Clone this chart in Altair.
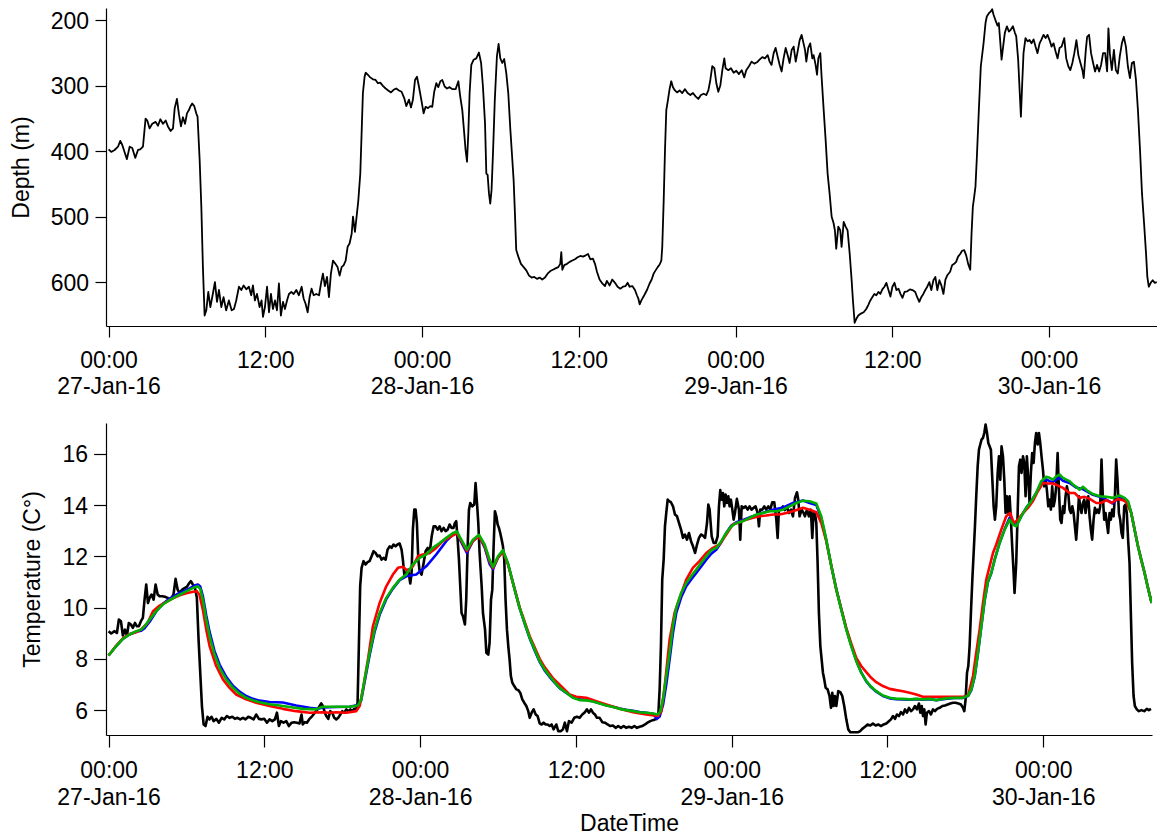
import altair as alt
import pandas as pd

START = "2016-01-27 00:00:00"

# (hours since 27-Jan-16 00:00, depth in m)
DEPTH = [
    (0.0, 397), (0.2, 401), (0.46, 398), (0.72, 393), (0.89, 384), (1.04, 390), (1.22, 401), (1.4, 412),
    (1.61, 393), (1.81, 395), (2.04, 410), (2.25, 398), (2.42, 397), (2.63, 393), (2.83, 350), (2.96, 353),
    (3.14, 365), (3.34, 358), (3.6, 355), (3.78, 361), (3.96, 351), (4.16, 358), (4.37, 353), (4.54, 362),
    (4.75, 369), (4.93, 365), (5.06, 334), (5.23, 320), (5.39, 344), (5.54, 362), (5.69, 348), (5.85, 358),
    (6.0, 342), (6.15, 337), (6.25, 332), (6.4, 327), (6.56, 331), (6.71, 342), (6.81, 347), (6.97, 413),
    (7.1, 485), (7.22, 577), (7.35, 651), (7.48, 643), (7.63, 615), (7.79, 638), (7.99, 617), (8.14, 600),
    (8.3, 630), (8.45, 612), (8.63, 638), (8.8, 623), (9.0, 643), (9.21, 628), (9.42, 643), (9.6, 641),
    (9.77, 628), (9.98, 607), (10.16, 612), (10.34, 605), (10.54, 611), (10.74, 607), (10.92, 620), (11.05, 605),
    (11.2, 628), (11.36, 618), (11.56, 638), (11.71, 628), (11.82, 653), (11.97, 638), (12.13, 607), (12.28, 646),
    (12.43, 618), (12.58, 641), (12.74, 628), (12.89, 643), (13.04, 602), (13.19, 651), (13.35, 630), (13.5, 641),
    (13.66, 628), (13.81, 618), (13.99, 615), (14.17, 618), (14.37, 612), (14.57, 620), (14.78, 607), (14.93, 625),
    (15.08, 633), (15.24, 646), (15.39, 623), (15.54, 610), (15.7, 620), (15.9, 618), (16.11, 620), (16.28, 600),
    (16.41, 587), (16.56, 606), (16.72, 592), (16.87, 623), (17.02, 587), (17.18, 567), (17.36, 572), (17.53, 577),
    (17.69, 590), (17.84, 577), (18.0, 574), (18.15, 567), (18.3, 546), (18.45, 541), (18.61, 526), (18.71, 500),
    (18.86, 523), (18.96, 505), (19.12, 475), (19.27, 434), (19.37, 373), (19.47, 311), (19.6, 286), (19.68, 280),
    (19.85, 283), (20.03, 287), (20.24, 290), (20.44, 291), (20.62, 296), (20.8, 295), (21.0, 300), (21.21, 304),
    (21.41, 307), (21.62, 310), (21.82, 306), (22.02, 304), (22.23, 307), (22.43, 309), (22.64, 319), (22.79, 331),
    (23.0, 321), (23.15, 333), (23.3, 321), (23.46, 291), (23.61, 286), (23.76, 301), (23.94, 321), (24.12, 342),
    (24.27, 332), (24.45, 334), (24.63, 331), (24.78, 332), (24.93, 309), (25.09, 296), (25.24, 302), (25.4, 293),
    (25.55, 291), (25.73, 301), (25.91, 304), (26.11, 302), (26.31, 305), (26.57, 305), (26.78, 293), (26.92, 316),
    (27.08, 337), (27.23, 373), (27.33, 398), (27.44, 416), (27.54, 373), (27.64, 311), (27.77, 268), (27.95, 260),
    (28.15, 258), (28.35, 249), (28.52, 265), (28.66, 301), (28.82, 357), (28.92, 434), (29.02, 436), (29.12, 464),
    (29.22, 480), (29.32, 459), (29.43, 403), (29.57, 321), (29.73, 255), (29.86, 236), (29.99, 258), (30.14, 265),
    (30.29, 259), (30.45, 281), (30.6, 311), (30.76, 367), (30.91, 413), (31.01, 444), (31.11, 495), (31.21, 551),
    (31.37, 561), (31.57, 572), (31.78, 577), (31.98, 582), (32.19, 590), (32.39, 593), (32.59, 592), (32.8, 595),
    (33.0, 593), (33.2, 596), (33.41, 593), (33.61, 587), (33.82, 583), (34.02, 581), (34.22, 579), (34.43, 577),
    (34.58, 572), (34.66, 554), (34.74, 581), (34.89, 574), (35.1, 572), (35.3, 569), (35.5, 567), (35.71, 565),
    (35.91, 562), (36.12, 560), (36.32, 561), (36.53, 559), (36.71, 557), (36.88, 565), (37.08, 564), (37.24, 572),
    (37.39, 584), (37.59, 596), (37.8, 602), (38.0, 606), (38.15, 598), (38.36, 605), (38.56, 596), (38.77, 601),
    (38.97, 607), (39.18, 610), (39.38, 607), (39.58, 606), (39.74, 601), (39.89, 607), (40.1, 606), (40.3, 612),
    (40.45, 620), (40.56, 625), (40.66, 634), (40.81, 627), (41.01, 620), (41.22, 612), (41.42, 602), (41.58, 596),
    (41.73, 587), (41.88, 582), (42.04, 577), (42.19, 573), (42.32, 567), (42.39, 546), (42.5, 475), (42.6, 398),
    (42.7, 337), (42.83, 321), (42.95, 305), (43.08, 293), (43.21, 302), (43.36, 307), (43.52, 310), (43.72, 307),
    (43.92, 311), (44.13, 305), (44.33, 311), (44.54, 314), (44.74, 311), (44.94, 316), (45.15, 320), (45.35, 314),
    (45.56, 312), (45.76, 314), (45.92, 307), (46.07, 291), (46.22, 270), (46.38, 273), (46.53, 296), (46.68, 309),
    (46.84, 299), (46.99, 276), (47.14, 258), (47.24, 273), (47.45, 276), (47.65, 273), (47.86, 280), (48.06, 277),
    (48.26, 282), (48.47, 276), (48.67, 287), (48.82, 276), (49.03, 270), (49.23, 263), (49.44, 266), (49.64, 264),
    (49.84, 260), (50.05, 256), (50.25, 258), (50.46, 253), (50.61, 263), (50.76, 268), (50.92, 250), (51.07, 242),
    (51.22, 255), (51.38, 268), (51.53, 278), (51.68, 258), (51.84, 242), (51.99, 253), (52.14, 265), (52.3, 245),
    (52.45, 240), (52.61, 263), (52.76, 247), (52.91, 230), (53.06, 222), (53.32, 245), (53.42, 263), (53.57, 242),
    (53.72, 235), (53.88, 258), (53.98, 253), (54.13, 268), (54.24, 283), (54.34, 258), (54.49, 250), (54.59, 286),
    (54.75, 337), (54.9, 383), (55.05, 434), (55.2, 464), (55.36, 500), (55.51, 510), (55.61, 521), (55.71, 549),
    (55.87, 515), (56.02, 521), (56.12, 546), (56.28, 508), (56.43, 515), (56.58, 521), (56.74, 556), (56.89, 597),
    (56.99, 628), (57.12, 662), (57.25, 656), (57.4, 651), (57.6, 648), (57.81, 646), (58.01, 641), (58.16, 635),
    (58.32, 628), (58.47, 623), (58.63, 618), (58.78, 620), (58.94, 615), (59.09, 618), (59.24, 611), (59.4, 607),
    (59.55, 601), (59.71, 612), (59.86, 622), (60.01, 607), (60.17, 601), (60.32, 612), (60.48, 610), (60.63, 618),
    (60.78, 624), (60.94, 615), (61.15, 614), (61.35, 611), (61.55, 612), (61.76, 615), (61.91, 623), (62.07, 630),
    (62.22, 623), (62.38, 618), (62.53, 612), (62.68, 607), (62.84, 600), (62.99, 612), (63.15, 597), (63.3, 592),
    (63.45, 612), (63.61, 597), (63.76, 605), (63.92, 618), (64.07, 596), (64.23, 589), (64.43, 584), (64.58, 574),
    (64.74, 572), (64.89, 569), (65.04, 561), (65.2, 557), (65.35, 552), (65.51, 551), (65.66, 559), (65.81, 572),
    (65.97, 581), (66.07, 526), (66.17, 485), (66.27, 470), (66.37, 454), (66.48, 408), (66.63, 337), (66.78, 270),
    (66.99, 235), (67.14, 204), (67.24, 194), (67.4, 189), (67.55, 186), (67.65, 183), (67.75, 191), (67.91, 200),
    (68.06, 208), (68.16, 204), (68.26, 230), (68.37, 260), (68.52, 235), (68.62, 219), (68.78, 209), (68.93, 217),
    (69.08, 214), (69.24, 209), (69.39, 219), (69.49, 224), (69.64, 260), (69.75, 306), (69.85, 347), (69.95, 296),
    (70.05, 250), (70.2, 227), (70.36, 232), (70.51, 230), (70.66, 235), (70.82, 229), (70.97, 240), (71.12, 250),
    (71.28, 235), (71.43, 229), (71.58, 222), (71.74, 227), (71.89, 222), (72.04, 230), (72.2, 240), (72.35, 235),
    (72.5, 247), (72.66, 258), (72.81, 242), (72.97, 240), (73.17, 227), (73.32, 258), (73.48, 270), (73.63, 276),
    (73.79, 265), (73.94, 250), (74.1, 230), (74.25, 253), (74.41, 265), (74.56, 276), (74.66, 288), (74.82, 245),
    (74.92, 225), (75.07, 222), (75.22, 250), (75.38, 265), (75.53, 278), (75.68, 268), (75.84, 278), (75.99, 268),
    (76.14, 250), (76.3, 250), (76.45, 278), (76.55, 212), (76.66, 250), (76.81, 276), (76.97, 245), (77.12, 276),
    (77.27, 281), (77.42, 255), (77.58, 235), (77.73, 225), (77.89, 240), (78.04, 270), (78.2, 288), (78.35, 265),
    (78.5, 263), (78.66, 291), (78.81, 337), (78.97, 398), (79.12, 464), (79.28, 510), (79.43, 556), (79.53, 592),
    (79.64, 607), (79.79, 601), (79.94, 597), (80.1, 601), (80.25, 600),
]

# (hours, temperature) measured (black)
TEMP_BLACK = [
    (0.0, 9.08), (0.2, 8.99), (0.46, 9.08), (0.64, 9.01), (0.79, 9.53), (0.95, 9.47), (1.1, 8.91), (1.26, 9.14),
    (1.41, 8.91), (1.56, 9.4), (1.72, 9.34), (1.87, 9.21), (2.03, 9.4), (2.18, 9.27), (2.33, 9.27), (2.49, 9.47),
    (2.64, 9.6), (2.77, 10.31), (2.9, 10.9), (3.03, 10.18), (3.16, 10.38), (3.31, 10.51), (3.47, 10.31), (3.62, 10.9),
    (3.78, 10.51), (3.93, 10.44), (4.13, 10.44), (4.34, 10.42), (4.54, 10.38), (4.7, 10.31), (4.85, 10.38), (5.0, 10.51),
    (5.16, 11.12), (5.32, 10.7), (5.47, 10.57), (5.67, 10.7), (5.88, 10.77), (6.03, 10.81), (6.19, 10.94), (6.34, 11.03),
    (6.49, 10.9), (6.65, 10.77), (6.8, 10.38), (6.93, 8.76), (7.06, 7.46), (7.19, 6.16), (7.32, 5.44), (7.47, 5.38),
    (7.62, 5.74), (7.77, 5.64), (7.93, 5.74), (8.09, 5.57), (8.29, 5.66), (8.5, 5.51), (8.71, 5.7), (8.91, 5.64),
    (9.11, 5.77), (9.32, 5.7), (9.53, 5.74), (9.73, 5.66), (9.93, 5.7), (10.14, 5.64), (10.35, 5.7), (10.55, 5.64),
    (10.76, 5.74), (10.96, 5.7), (11.17, 5.64), (11.37, 5.83), (11.58, 5.66), (11.79, 5.64), (11.99, 5.66), (12.2, 5.51),
    (12.4, 5.64), (12.61, 5.57), (12.81, 5.64), (12.97, 5.9), (13.12, 5.38), (13.27, 5.57), (13.48, 5.51), (13.69, 5.57),
    (13.89, 5.38), (14.1, 5.51), (14.3, 5.53), (14.51, 5.51), (14.71, 5.48), (14.86, 5.83), (14.96, 5.44), (15.12, 5.53),
    (15.28, 5.51), (15.48, 5.66), (15.69, 5.77), (15.89, 5.9), (16.1, 6.03), (16.26, 6.16), (16.38, 6.26), (16.51, 6.16),
    (16.66, 5.9), (16.77, 5.77), (16.92, 5.66), (17.08, 5.96), (17.23, 5.9), (17.38, 5.7), (17.54, 5.64), (17.69, 5.7),
    (17.85, 5.83), (18.0, 5.96), (18.15, 5.9), (18.31, 6.03), (18.46, 5.96), (18.62, 6.03), (18.77, 5.96), (18.92, 6.05),
    (19.08, 6.03), (19.18, 6.29), (19.28, 8.5), (19.38, 10.83), (19.49, 11.55), (19.64, 11.81), (19.8, 11.68), (19.95, 11.77),
    (20.1, 11.81), (20.26, 12.0), (20.41, 12.2), (20.57, 12.13), (20.72, 12.0), (20.88, 12.03), (21.03, 11.87), (21.18, 11.94),
    (21.34, 11.87), (21.49, 12.26), (21.65, 12.39), (21.8, 12.33), (21.95, 12.46), (22.11, 12.39), (22.26, 12.46), (22.42, 12.5),
    (22.57, 12.26), (22.67, 11.87), (22.78, 11.29), (22.93, 11.35), (23.08, 11.48), (23.24, 10.94), (23.34, 11.35), (23.44, 13.04),
    (23.55, 13.82), (23.65, 13.82), (23.75, 13.3), (23.86, 11.87), (23.96, 11.42), (24.11, 11.29), (24.27, 11.74), (24.42, 12.2),
    (24.58, 12.33), (24.73, 12.13), (24.89, 12.78), (25.04, 13.17), (25.19, 13.17), (25.35, 13.04), (25.5, 13.17), (25.65, 12.98),
    (25.81, 13.11), (25.96, 12.98), (26.12, 13.04), (26.27, 13.24), (26.42, 13.11), (26.57, 13.11), (26.68, 13.3), (26.78, 13.37),
    (26.89, 12.65), (26.99, 11.87), (27.09, 10.83), (27.19, 9.79), (27.3, 9.66), (27.45, 9.34), (27.55, 10.31), (27.66, 12.39),
    (27.76, 13.82), (27.86, 14.08), (28.02, 13.95), (28.17, 14.02), (28.27, 14.86), (28.38, 14.08), (28.48, 13.3), (28.58, 12.13),
    (28.74, 10.83), (28.84, 9.79), (29.0, 9.14), (29.1, 8.24), (29.25, 8.17), (29.35, 8.63), (29.46, 10.31), (29.56, 10.7),
    (29.66, 12.39), (29.76, 13.76), (29.87, 13.56), (29.97, 13.24), (30.07, 13.11), (30.17, 12.91), (30.28, 12.65), (30.38, 12.39),
    (30.48, 11.87), (30.58, 10.31), (30.69, 9.14), (30.79, 8.5), (30.89, 7.98), (30.99, 7.33), (31.1, 7.07), (31.25, 6.94),
    (31.41, 6.81), (31.56, 6.78), (31.71, 6.68), (31.87, 6.42), (32.02, 6.29), (32.18, 6.16), (32.33, 5.96), (32.44, 5.7),
    (32.59, 5.9), (32.74, 6.03), (32.9, 5.83), (33.05, 5.77), (33.21, 5.48), (33.36, 5.44), (33.51, 5.51), (33.67, 5.44),
    (33.82, 5.44), (33.98, 5.38), (34.13, 5.44), (34.28, 5.25), (34.49, 5.44), (34.64, 5.18), (34.85, 5.18), (35.0, 5.25),
    (35.15, 5.51), (35.31, 5.18), (35.46, 5.57), (35.67, 5.51), (35.87, 5.7), (36.08, 5.74), (36.28, 5.7), (36.49, 5.83),
    (36.69, 5.92), (36.85, 6.03), (37.0, 5.9), (37.16, 6.03), (37.31, 5.9), (37.47, 5.83), (37.62, 5.7), (37.83, 5.7),
    (38.03, 5.53), (38.24, 5.51), (38.44, 5.44), (38.65, 5.38), (38.85, 5.4), (39.06, 5.31), (39.26, 5.38), (39.47, 5.31),
    (39.68, 5.38), (39.88, 5.31), (40.09, 5.35), (40.29, 5.31), (40.5, 5.38), (40.7, 5.31), (40.91, 5.35), (41.11, 5.38),
    (41.32, 5.44), (41.52, 5.51), (41.73, 5.57), (41.93, 5.61), (42.14, 5.64), (42.35, 5.83), (42.45, 6.81), (42.55, 8.5),
    (42.65, 11.09), (42.76, 11.87), (42.86, 13.17), (42.96, 13.69), (43.07, 14.21), (43.17, 14.15), (43.32, 14.11), (43.48, 13.95),
    (43.63, 13.63), (43.79, 13.56), (43.94, 13.3), (44.1, 13.04), (44.25, 12.72), (44.4, 12.85), (44.56, 12.65), (44.71, 12.91),
    (44.87, 12.59), (45.02, 12.39), (45.18, 12.13), (45.33, 12.46), (45.48, 12.72), (45.64, 12.85), (45.79, 12.81), (45.95, 12.72),
    (46.1, 13.3), (46.2, 14.02), (46.3, 13.82), (46.46, 12.78), (46.61, 12.52), (46.77, 12.52), (46.92, 12.78), (47.02, 13.95),
    (47.12, 14.58), (47.22, 14.21), (47.33, 14.47), (47.43, 13.95), (47.53, 14.41), (47.63, 14.08), (47.74, 14.34), (47.84, 13.95),
    (47.94, 14.21), (48.05, 13.82), (48.15, 13.43), (48.25, 13.69), (48.4, 14.24), (48.56, 13.82), (48.66, 12.65), (48.77, 13.95),
    (48.92, 13.89), (49.07, 13.95), (49.23, 13.82), (49.38, 13.95), (49.53, 13.82), (49.69, 13.89), (49.84, 13.95), (50.0, 13.69),
    (50.1, 13.17), (50.2, 13.82), (50.36, 13.82), (50.51, 13.95), (50.66, 13.82), (50.82, 13.95), (50.97, 13.82), (51.13, 14.11),
    (51.28, 14.11), (51.44, 13.43), (51.54, 12.72), (51.64, 13.82), (51.79, 13.82), (51.95, 13.95), (52.1, 13.8), (52.26, 13.93),
    (52.41, 13.69), (52.57, 13.82), (52.72, 13.56), (52.88, 14.28), (53.03, 14.5), (53.13, 14.21), (53.23, 13.56), (53.39, 13.82),
    (53.54, 13.69), (53.64, 13.56), (53.8, 13.82), (53.95, 13.56), (54.1, 13.82), (54.21, 12.72), (54.31, 13.69), (54.41, 13.69),
    (54.52, 13.3), (54.62, 11.74), (54.72, 9.79), (54.83, 8.5), (54.93, 7.98), (55.03, 7.46), (55.13, 7.2), (55.24, 6.87),
    (55.39, 6.81), (55.54, 6.55), (55.65, 6.09), (55.75, 6.68), (55.85, 6.16), (55.95, 6.55), (56.06, 6.16), (56.21, 6.74),
    (56.37, 6.7), (56.52, 6.55), (56.67, 6.16), (56.83, 5.64), (56.98, 5.25), (57.14, 5.14), (57.34, 5.14), (57.55, 5.14),
    (57.75, 5.14), (57.9, 5.18), (58.06, 5.27), (58.27, 5.35), (58.47, 5.44), (58.68, 5.4), (58.88, 5.48), (59.09, 5.4),
    (59.29, 5.44), (59.5, 5.38), (59.71, 5.44), (59.91, 5.48), (60.11, 5.57), (60.27, 5.64), (60.43, 5.77), (60.58, 5.66),
    (60.73, 5.83), (60.89, 5.77), (61.04, 5.92), (61.2, 5.83), (61.35, 6.03), (61.5, 5.9), (61.66, 6.09), (61.81, 5.96),
    (61.97, 6.03), (62.12, 6.16), (62.27, 6.03), (62.43, 6.26), (62.53, 5.9), (62.64, 6.16), (62.74, 5.77), (62.84, 6.03),
    (62.94, 5.44), (63.04, 5.9), (63.2, 5.96), (63.35, 5.83), (63.51, 6.03), (63.66, 5.96), (63.82, 6.05), (64.02, 6.09),
    (64.23, 6.16), (64.43, 6.18), (64.64, 6.22), (64.84, 6.26), (65.05, 6.29), (65.25, 6.29), (65.46, 6.26), (65.66, 6.22),
    (65.82, 6.09), (65.92, 5.96), (66.02, 6.42), (66.13, 7.46), (66.23, 7.72), (66.33, 8.5), (66.43, 9.79), (66.54, 11.09),
    (66.64, 12.13), (66.74, 13.17), (66.84, 14.34), (66.95, 15.51), (67.05, 16.16), (67.15, 16.36), (67.25, 16.55), (67.36, 16.62),
    (67.46, 16.81), (67.56, 17.14), (67.67, 16.81), (67.77, 16.42), (67.87, 16.29), (67.97, 16.16), (68.08, 14.99), (68.18, 13.95),
    (68.28, 13.43), (68.38, 13.95), (68.49, 15.25), (68.59, 15.9), (68.69, 14.99), (68.79, 16.29), (68.9, 15.9), (69.0, 14.99),
    (69.1, 13.69), (69.2, 14.34), (69.31, 13.69), (69.41, 14.34), (69.51, 13.43), (69.61, 12.39), (69.72, 11.35), (69.79, 10.57),
    (69.92, 11.74), (70.03, 13.69), (70.13, 15.51), (70.23, 15.77), (70.33, 15.25), (70.44, 15.9), (70.54, 15.64), (70.64, 14.34),
    (70.74, 15.9), (70.85, 14.99), (70.95, 14.08), (71.05, 15.25), (71.15, 16.03), (71.26, 15.64), (71.36, 16.42), (71.46, 16.81),
    (71.57, 16.36), (71.67, 16.81), (71.77, 16.42), (71.87, 15.9), (71.98, 15.38), (72.08, 14.73), (72.18, 14.99), (72.28, 14.6),
    (72.39, 13.95), (72.49, 14.21), (72.59, 13.82), (72.69, 14.73), (72.8, 13.95), (72.9, 14.21), (73.0, 14.73), (73.11, 16.03),
    (73.21, 14.6), (73.31, 13.43), (73.41, 13.3), (73.52, 13.95), (73.62, 13.69), (73.72, 14.34), (73.82, 14.73), (73.93, 14.47),
    (74.03, 13.82), (74.13, 13.69), (74.24, 13.95), (74.34, 13.69), (74.44, 13.17), (74.54, 12.65), (74.65, 13.43), (74.75, 14.34),
    (74.85, 13.95), (74.95, 13.69), (75.06, 14.08), (75.16, 14.21), (75.26, 13.69), (75.36, 14.08), (75.47, 14.34), (75.57, 13.56),
    (75.67, 13.04), (75.77, 12.65), (75.88, 13.43), (75.98, 13.89), (76.08, 13.69), (76.18, 13.82), (76.29, 13.69), (76.39, 13.95),
    (76.49, 15.77), (76.59, 14.34), (76.7, 13.43), (76.8, 13.69), (76.9, 13.3), (77.0, 12.91), (77.11, 13.69), (77.21, 13.43),
    (77.31, 13.82), (77.42, 13.56), (77.52, 14.34), (77.62, 15.77), (77.72, 14.99), (77.83, 13.69), (77.93, 13.43), (78.03, 12.91),
    (78.13, 12.72), (78.24, 13.95), (78.34, 14.02), (78.44, 13.69), (78.54, 12.65), (78.65, 11.74), (78.75, 9.79), (78.85, 7.85),
    (78.96, 6.55), (79.06, 6.16), (79.21, 6.03), (79.37, 5.96), (79.57, 6.0), (79.78, 5.96), (79.98, 6.05), (80.14, 6.0),
    (80.3, 6.05),
]

TEMP_BLUE = [
    (0.0, 8.13), (0.59, 8.5), (1.1, 8.78), (1.61, 8.95), (2.13, 9.06), (2.51, 9.1), (2.77, 9.2), (3.16, 9.45),
    (3.67, 9.85), (4.18, 10.15), (4.7, 10.35), (5.21, 10.5), (5.73, 10.63), (6.24, 10.75), (6.62, 10.86), (6.88, 10.9),
    (7.06, 10.82), (7.26, 10.45), (7.52, 9.7), (7.78, 9.05), (8.16, 8.3), (8.55, 7.78), (9.06, 7.3), (9.58, 6.95),
    (10.09, 6.72), (10.6, 6.55), (11.12, 6.44), (11.63, 6.37), (12.4, 6.32), (13.43, 6.3), (14.45, 6.18), (15.48, 6.09),
    (16.13, 6.05), (16.51, 6.1), (17.54, 6.12), (18.56, 6.13), (19.21, 6.2), (19.46, 6.38), (19.72, 7.1), (20.11, 8.15),
    (20.49, 9.05), (20.88, 9.72), (21.39, 10.33), (21.9, 10.74), (22.42, 11.07), (22.93, 11.22), (23.7, 11.29), (24.47, 11.61),
    (25.24, 12.07), (26.01, 12.59), (26.53, 12.85), (26.83, 12.9), (27.17, 12.55), (27.6, 12.13), (28.07, 12.6), (28.53, 12.8),
    (28.97, 12.35), (29.35, 11.7), (29.61, 11.5), (30.0, 11.95), (30.38, 12.2), (30.76, 11.72), (31.28, 10.72), (31.66, 9.99),
    (32.05, 9.38), (32.44, 8.8), (32.82, 8.33), (33.21, 7.88), (33.59, 7.55), (33.97, 7.3), (34.36, 7.07), (34.75, 6.86),
    (35.26, 6.67), (35.77, 6.5), (36.28, 6.42), (36.8, 6.4), (37.31, 6.35), (37.83, 6.27), (38.34, 6.19), (38.85, 6.13),
    (39.37, 6.06), (39.88, 6.01), (40.4, 5.97), (40.91, 5.93), (41.42, 5.9), (41.94, 5.86), (42.24, 5.66), (42.45, 5.75),
    (42.71, 6.2), (42.96, 7.0), (43.22, 7.98), (43.47, 9.0), (43.73, 9.79), (44.11, 10.4), (44.5, 10.83), (44.88, 11.1),
    (45.27, 11.35), (45.65, 11.6), (46.04, 11.87), (46.43, 12.1), (46.81, 12.26), (47.2, 12.55), (47.58, 12.91), (47.97, 13.2),
    (48.36, 13.33), (48.87, 13.42), (49.38, 13.52), (49.64, 13.56), (50.41, 13.7), (51.18, 13.82), (51.95, 13.9), (52.72, 14.08),
    (53.49, 14.18), (54.0, 14.08), (54.52, 14.0), (54.9, 13.5), (55.29, 12.62), (55.68, 11.61), (56.06, 10.72), (56.44, 9.95),
    (56.83, 9.17), (57.21, 8.52), (57.6, 7.93), (57.98, 7.47), (58.37, 7.12), (58.75, 6.89), (59.14, 6.72), (59.65, 6.55),
    (60.17, 6.46), (60.68, 6.43), (61.19, 6.42), (61.71, 6.41), (62.22, 6.43), (62.73, 6.41), (63.25, 6.43), (63.76, 6.39),
    (64.28, 6.43), (64.79, 6.46), (65.3, 6.48), (65.82, 6.48), (66.21, 6.55), (66.46, 6.78), (66.72, 7.3), (66.97, 8.2),
    (67.23, 9.25), (67.49, 10.28), (67.74, 11.0), (68.0, 11.35), (68.26, 11.87), (68.64, 12.52), (69.03, 13.06), (69.41, 13.5),
    (69.67, 13.3), (69.92, 13.2), (70.31, 13.56), (70.69, 13.89), (71.08, 14.15), (71.46, 14.47), (71.85, 14.88), (72.23, 15.0),
    (72.49, 14.93), (72.75, 14.9), (73.0, 15.0), (73.26, 15.06), (73.52, 14.95), (74.03, 14.86), (74.55, 14.68), (75.06, 14.62),
    (75.32, 14.54), (75.83, 14.4), (76.61, 14.28), (77.37, 14.06), (77.76, 14.28), (78.27, 14.25), (78.53, 14.12), (78.78, 13.69),
    (79.04, 13.04), (79.3, 12.39), (79.55, 11.87), (79.81, 11.35), (80.07, 10.77), (80.35, 10.18),
]

TEMP_RED = [
    (0.0, 8.13), (0.59, 8.52), (1.1, 8.8), (1.61, 8.97), (2.13, 9.04), (2.51, 9.15), (3.0, 9.4), (3.42, 9.86),
    (3.93, 10.08), (4.45, 10.22), (4.96, 10.36), (5.47, 10.48), (5.99, 10.56), (6.5, 10.62), (6.8, 10.64), (7.0, 10.5),
    (7.26, 9.92), (7.52, 9.15), (7.78, 8.5), (8.29, 7.72), (8.81, 7.2), (9.32, 6.87), (9.83, 6.61), (10.6, 6.42),
    (11.37, 6.29), (12.4, 6.16), (13.43, 6.05), (14.45, 5.96), (15.48, 5.9), (16.51, 5.92), (17.02, 5.9), (17.54, 5.92),
    (18.31, 5.9), (19.08, 5.96), (19.34, 6.16), (19.59, 6.81), (19.98, 7.98), (20.36, 9.27), (20.88, 10.18), (21.39, 10.83),
    (21.9, 11.29), (22.29, 11.55), (22.67, 11.59), (23.06, 11.42), (23.44, 11.61), (23.83, 12.0), (24.21, 12.07), (24.73, 12.13),
    (25.24, 12.33), (25.75, 12.59), (26.53, 12.82), (26.83, 12.9), (27.17, 12.6), (27.6, 12.2), (28.07, 12.6), (28.53, 12.78),
    (28.97, 12.4), (29.35, 11.8), (29.61, 11.55), (30.0, 11.95), (30.38, 12.18), (30.76, 11.7), (31.28, 10.72), (31.66, 10.02),
    (32.05, 9.45), (32.44, 8.88), (32.82, 8.45), (33.21, 8.0), (33.59, 7.68), (34.21, 7.26), (35.0, 6.87), (35.51, 6.61),
    (36.03, 6.52), (36.8, 6.48), (37.57, 6.35), (38.34, 6.22), (39.37, 6.05), (40.4, 5.92), (41.42, 5.83), (42.32, 5.77),
    (42.58, 5.96), (42.84, 6.94), (43.22, 8.76), (43.6, 9.79), (43.99, 10.38), (44.5, 11.09), (45.01, 11.55), (45.52, 11.81),
    (46.04, 12.13), (46.55, 12.33), (47.07, 12.46), (47.58, 12.85), (48.09, 13.24), (48.61, 13.33), (49.12, 13.43), (49.64, 13.5),
    (50.15, 13.56), (50.66, 13.59), (51.18, 13.63), (51.69, 13.63), (52.21, 13.69), (52.72, 13.76), (53.49, 13.89), (54.0, 13.82),
    (54.52, 13.72), (54.9, 13.3), (55.29, 12.59), (55.68, 11.61), (56.06, 10.7), (56.44, 9.95), (56.83, 9.2), (57.21, 8.6),
    (57.6, 8.04), (57.98, 7.72), (58.37, 7.48), (58.75, 7.26), (59.14, 7.09), (59.65, 6.94), (60.17, 6.83), (60.68, 6.78),
    (61.19, 6.74), (61.71, 6.68), (62.22, 6.61), (62.73, 6.52), (63.25, 6.52), (63.76, 6.52), (64.79, 6.52), (65.82, 6.52),
    (66.21, 6.57), (66.59, 7.33), (66.84, 8.24), (67.1, 9.14), (67.36, 10.18), (67.61, 11.09), (67.87, 11.61), (68.13, 12.13),
    (68.38, 12.46), (68.77, 13.04), (69.15, 13.56), (69.46, 13.69), (69.72, 13.3), (70.05, 13.43), (70.44, 13.69), (70.82, 13.89),
    (71.2, 14.15), (71.59, 14.54), (71.98, 14.86), (72.36, 14.84), (72.75, 14.84), (73.14, 14.76), (73.52, 14.67), (74.03, 14.47),
    (74.42, 14.47), (74.8, 14.28), (75.19, 14.32), (75.58, 14.24), (76.09, 14.08), (76.48, 14.08), (76.86, 14.19), (77.25, 14.08),
    (77.76, 14.24), (78.14, 14.19), (78.4, 14.11), (78.78, 13.69), (79.04, 13.04), (79.3, 12.39), (79.55, 11.87), (79.81, 11.35),
    (80.07, 10.77), (80.35, 10.18),
]

TEMP_GREEN = [
    (0.0, 8.13), (0.59, 8.5), (1.1, 8.78), (1.61, 8.95), (2.13, 9.08), (2.51, 9.14), (2.77, 9.27), (3.16, 9.53),
    (3.67, 9.86), (4.18, 10.12), (4.7, 10.29), (5.21, 10.44), (5.73, 10.57), (6.24, 10.7), (6.62, 10.79), (6.88, 10.83),
    (7.06, 10.73), (7.26, 10.31), (7.52, 9.53), (7.78, 8.89), (8.16, 8.17), (8.55, 7.65), (9.06, 7.2), (9.58, 6.87),
    (10.09, 6.64), (10.6, 6.48), (11.12, 6.38), (11.63, 6.31), (12.4, 6.23), (13.17, 6.18), (13.94, 6.12), (14.97, 6.05),
    (16.0, 6.03), (16.25, 6.09), (16.51, 6.13), (17.54, 6.13), (18.56, 6.13), (19.21, 6.18), (19.46, 6.42), (19.72, 7.2),
    (20.11, 8.24), (20.49, 9.14), (20.88, 9.79), (21.39, 10.38), (21.9, 10.77), (22.42, 11.09), (22.93, 11.29), (23.44, 11.68),
    (23.96, 11.94), (24.47, 12.07), (24.98, 12.33), (25.5, 12.52), (26.01, 12.72), (26.53, 12.91), (26.83, 12.97), (27.17, 12.65),
    (27.6, 12.26), (28.07, 12.65), (28.53, 12.84), (28.97, 12.46), (29.35, 11.87), (29.61, 11.59), (30.0, 12.0), (30.38, 12.24),
    (30.76, 11.74), (31.28, 10.7), (31.66, 9.99), (32.05, 9.4), (32.44, 8.82), (32.82, 8.37), (33.21, 7.91), (33.59, 7.59),
    (33.97, 7.33), (34.36, 7.09), (34.75, 6.87), (35.26, 6.68), (35.77, 6.48), (36.28, 6.39), (36.8, 6.38), (37.31, 6.34),
    (37.83, 6.26), (38.34, 6.18), (38.85, 6.12), (39.37, 6.05), (39.88, 6.0), (40.4, 5.96), (40.91, 5.92), (41.42, 5.9),
    (41.94, 5.87), (42.32, 5.83), (42.5, 5.96), (42.71, 6.42), (42.96, 7.33), (43.22, 8.24), (43.47, 9.27), (43.73, 9.99),
    (44.11, 10.57), (44.5, 10.96), (44.88, 11.22), (45.27, 11.48), (45.65, 11.74), (46.04, 12.0), (46.43, 12.24), (46.81, 12.33),
    (47.2, 12.59), (47.58, 12.91), (47.97, 13.17), (48.36, 13.3), (48.87, 13.37), (49.38, 13.5), (49.9, 13.63), (50.41, 13.69),
    (50.92, 13.76), (51.44, 13.76), (51.95, 13.82), (52.46, 13.95), (52.98, 14.08), (53.49, 14.17), (54.0, 14.15), (54.52, 14.06),
    (54.9, 13.56), (55.29, 12.65), (55.68, 11.61), (56.06, 10.7), (56.44, 9.92), (56.83, 9.14), (57.21, 8.5), (57.6, 7.91),
    (57.98, 7.46), (58.37, 7.13), (58.75, 6.91), (59.14, 6.74), (59.65, 6.57), (60.17, 6.48), (60.68, 6.44), (61.19, 6.44),
    (61.71, 6.42), (62.22, 6.44), (62.73, 6.42), (63.25, 6.44), (63.76, 6.39), (64.28, 6.44), (64.79, 6.47), (65.3, 6.48),
    (65.82, 6.48), (66.21, 6.57), (66.46, 6.81), (66.72, 7.33), (66.97, 8.24), (67.23, 9.27), (67.49, 10.31), (67.74, 11.03),
    (68.0, 11.35), (68.26, 11.87), (68.64, 12.52), (69.03, 13.04), (69.41, 13.43), (69.67, 13.24), (69.92, 13.17), (70.31, 13.56),
    (70.69, 13.89), (71.08, 14.15), (71.46, 14.47), (71.85, 14.93), (72.23, 15.1), (72.49, 15.06), (72.75, 14.99), (73.0, 15.12),
    (73.26, 15.19), (73.52, 15.06), (73.78, 14.99), (74.03, 14.93), (74.29, 14.8), (74.55, 14.71), (74.8, 14.6), (75.06, 14.71),
    (75.45, 14.54), (75.83, 14.43), (76.35, 14.34), (76.86, 14.32), (77.37, 14.28), (77.88, 14.37), (78.27, 14.28), (78.53, 14.15),
    (78.78, 13.69), (79.04, 13.04), (79.3, 12.39), (79.55, 11.87), (79.81, 11.35), (80.07, 10.77), (80.35, 10.18),
]

TICK_HOURS = [0, 12, 24, 36, 48, 60, 72]
DEPTH_TICKS = [200, 300, 400, 500, 600]
TEMP_TICKS = [6, 8, 10, 12, 14, 16]

FONT = "Liberation Sans"
BASE = pd.Timestamp(START)


def frame(pairs, col):
    return pd.DataFrame({
        "DateTime": [BASE + pd.Timedelta(hours=h) for h, _ in pairs],
        col: [v for _, v in pairs],
    })


def dt(hours):
    ts = BASE + pd.Timedelta(hours=hours)
    return alt.DateTime(year=ts.year, month=ts.month, date=ts.day,
                        hours=ts.hour, minutes=ts.minute, seconds=ts.second)


LABEL_EXPR = ("hours(datum.value) == 0 ? [timeFormat(datum.value, '%H:%M'), "
              "timeFormat(datum.value, '%d-%b-%y')] : timeFormat(datum.value, '%H:%M')")


def x_axis(title, tick, pad, title_pad):
    kw = dict(values=[dt(h) for h in TICK_HOURS], labelExpr=LABEL_EXPR, tickSize=tick,
              labelPadding=pad, labelLineHeight=26.7, labelFlush=False, labelOverlap=False,
              labelBound=False, grid=False)
    if title:
        kw["title"] = title
        kw["titlePadding"] = title_pad
    else:
        kw["title"] = None
    return alt.Axis(**kw)


top = alt.Chart(frame(DEPTH, "Depth")).mark_line(
    color="black", strokeWidth=1.8, clip=True, strokeJoin="round"
).encode(
    x=alt.X("DateTime:T", scale=alt.Scale(domain=[dt(-0.2), dt(80.27)], nice=False),
            axis=x_axis(None, 11, 12, 0)),
    y=alt.Y("Depth:Q",
            scale=alt.Scale(domain=[181, 667], reverse=True, nice=False, zero=False),
            axis=alt.Axis(title="Depth (m)", values=DEPTH_TICKS, tickSize=11, labelPadding=6.5,
                          titlePadding=17, labelOffset=1, grid=False)),
).properties(width=1051, height=318)

x_b = alt.X("DateTime:T", scale=alt.Scale(domain=[dt(-0.2), dt(80.38)], nice=False),
            axis=x_axis("DateTime", 12, 12.5, 3))
y_b = alt.Y("Temperature:Q", scale=alt.Scale(domain=[5.03, 17.2], nice=False, zero=False),
            axis=alt.Axis(title="Temperature (C°)", values=TEMP_TICKS, tickSize=12.4, labelPadding=6,
                          titlePadding=18, labelOffset=1, grid=False))


def temp_layer(pairs, color, width):
    return alt.Chart(frame(pairs, "Temperature")).mark_line(
        color=color, strokeWidth=width, clip=True, strokeJoin="round"
    ).encode(x=x_b, y=y_b)


bottom = alt.layer(
    temp_layer(TEMP_BLACK, "black", 2.6),
    temp_layer(TEMP_BLUE, "#0000FF", 2.6),
    temp_layer(TEMP_RED, "#FF0000", 2.6),
    temp_layer(TEMP_GREEN, "#00B000", 2.6),
).properties(width=1046, height=312)

chart = alt.vconcat(top, bottom, spacing=97, bounds="flush").properties(
    padding={"left": 10, "top": 8, "right": 0, "bottom": 0},
    background="white",
).configure_axis(
    labelFont=FONT, titleFont=FONT, labelFontSize=23, titleFontSize=23,
    labelColor="black", titleColor="black", titleFontWeight="normal",
    domainColor="black", tickColor="black", domainWidth=1.2, tickWidth=1.2,
).configure_view(stroke=None)

chart.save("out.html", embed_options={"renderer": "svg", "actions": False})
